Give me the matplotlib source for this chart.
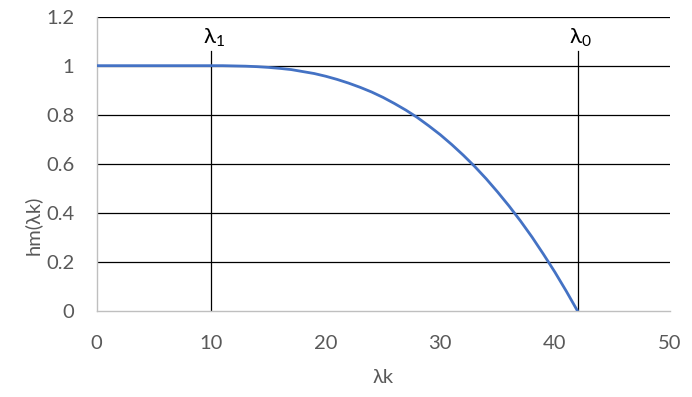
import matplotlib
matplotlib.use('Agg')
import matplotlib.pyplot as plt

# curve hm(lambda_k)
lam = [0, 10, 11, 12, 13, 14, 15, 16, 17, 18, 19, 20, 21, 22, 23, 24, 25, 26,
       27, 28, 29, 30, 31, 32, 33, 34, 35, 36, 37, 38, 39, 40, 41, 42]
hm = [1.0, 1.0, 1.0, 0.999, 0.998, 0.996, 0.993, 0.989, 0.984, 0.976, 0.968,
      0.957, 0.944, 0.929, 0.912, 0.893, 0.871, 0.846, 0.819, 0.789, 0.755,
      0.719, 0.679, 0.636, 0.590, 0.540, 0.486, 0.429, 0.368, 0.303, 0.233,
      0.160, 0.082, 0.0]

# marker lines
marks = [10, 42]
mark_labels = ['λ$_1$', 'λ$_0$']
mark_top = 1.06

xticks = [0, 10, 20, 30, 40, 50]
yticks = [0, 0.2, 0.4, 0.6, 0.8, 1, 1.2]
ytick_labels = ['0', '0.2', '0.4', '0.6', '0.8', '1', '1.2']

plt.rcParams['font.family'] = ['Lato', 'DejaVu Sans']
plt.rcParams['mathtext.fontset'] = 'custom'
plt.rcParams['mathtext.rm'] = 'Lato'
plt.rcParams['mathtext.it'] = 'Lato'

fig = plt.figure(figsize=(6.92, 3.97), dpi=100)
ax = fig.add_axes([0.1395, 0.2154, 0.828, 0.743])

ax.set_xlim(0, 50)
ax.set_ylim(0, 1.2)

# horizontal gridlines (black, Excel style)
for y in yticks[1:]:
    ax.axhline(y, color='black', linewidth=0.9, zorder=1)

for x, lab in zip(marks, mark_labels):
    ax.plot([x, x], [0, mark_top], color='black', linewidth=0.9, zorder=1)
    ax.text(x + 0.25, 1.113, lab, ha='center', va='center', fontsize=16,
            color='black')

ax.plot(lam, hm, color='#4472C4', linewidth=2.0, zorder=3,
        solid_capstyle='round')

for side in ['top', 'right']:
    ax.spines[side].set_visible(False)
for side in ['left', 'bottom']:
    ax.spines[side].set_color('#bfbfbf')
    ax.spines[side].set_linewidth(1.0)

ax.set_xticks(xticks)
ax.set_yticks(yticks)
ax.set_yticklabels(ytick_labels)
ax.tick_params(length=0, labelsize=14.5, labelcolor='#595959')
ax.tick_params(axis='y', pad=16)
ax.tick_params(axis='x', pad=17)

ax.set_xlabel('λk', fontsize=14.5, color='#595959', labelpad=12)
ax.set_ylabel('hm(λk)', fontsize=14.5, color='#595959')
ax.yaxis.set_label_coords(-0.095, 0.293)

plt.savefig('out.png', dpi=100)
